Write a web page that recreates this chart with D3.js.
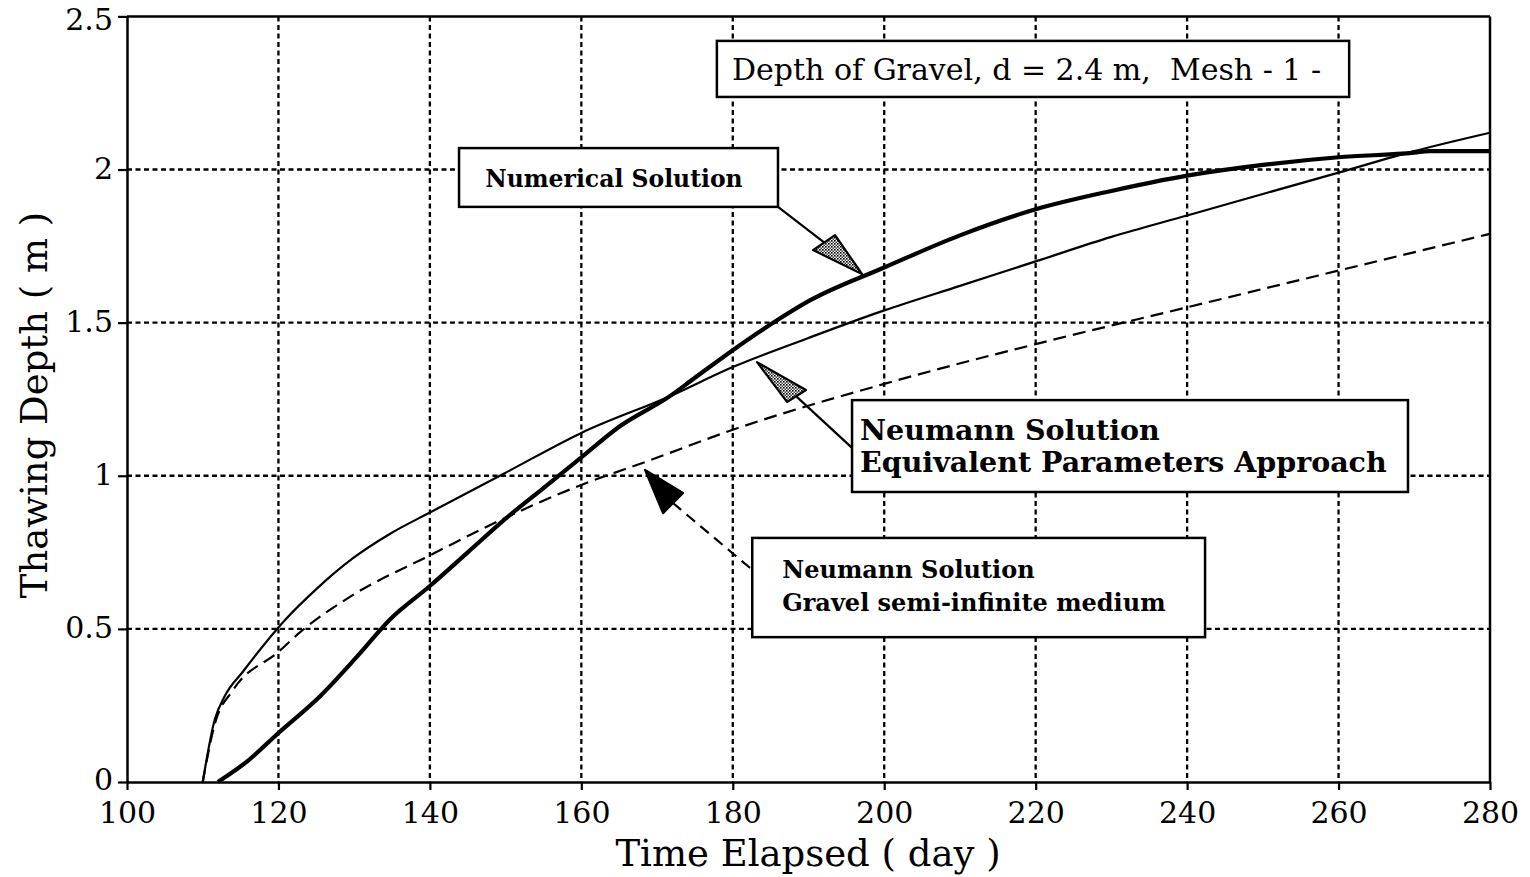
<!DOCTYPE html>
<html><head><meta charset="utf-8">
<script src="https://cdn.jsdelivr.net/npm/d3@7"></script>
<style>
html,body{margin:0;padding:0;background:#fff;}
svg{display:block;}
</style></head>
<body>
<svg id="chart" width="1530" height="877"></svg>
<script>
// ---- data ----
const xTicks = [100,120,140,160,180,200,220,240,260,280];
const yTicks = [0,0.5,1,1.5,2,2.5];
const yTickLabels = ["0","0.5","1","1.5","2","2.5"];

const numericalDays   = [112,116,120,125.5,130.4,134.7,140,145,150,155,160,165,171.7,175,180,186,190,200,210,220,230,240,250,260,270,272,280];
const numericalDepth  = [0,0.07,0.16,0.28,0.41,0.53,0.64,0.75,0.86,0.96,1.06,1.16,1.26,1.32,1.41,1.51,1.57,1.68,1.785,1.87,1.93,1.98,2.015,2.04,2.055,2.06,2.06];

const equivDays  = [110,111.6,112.9,115.3,120.9,125,129.8,134.7,140,150,160,171.7,180,190,200,210,220,230,240,250,260,270,280];
const equivDepth = [0,0.205,0.28,0.36,0.53,0.63,0.73,0.81,0.88,1.01,1.14,1.26,1.355,1.45,1.54,1.62,1.70,1.78,1.85,1.92,1.99,2.06,2.12];

const gravelDays  = [110,111.6,114,120,122.9,129.8,140,149.3,160,169,180,200,220,240,255,260,280];
const gravelDepth = [0,0.19,0.30,0.425,0.49,0.61,0.74,0.855,0.97,1.05,1.15,1.30,1.43,1.55,1.64,1.67,1.79];

const xTitle = "Time Elapsed ( day )";
const yTitle = "Thawing Depth ( m )";

// ---- layout ----
const svg = d3.select("#chart");
const L = 127, R = 1490, T = 16.4, B = 782;
const x = d3.scaleLinear().domain([100,280]).range([L,R]);
const y = d3.scaleLinear().domain([0,2.5]).range([B,T]);
const serif = "'DejaVu Serif', 'Liberation Serif', serif";

// pattern for stippled arrowheads
const defs = svg.append("defs");
const pat = defs.append("pattern").attr("id","stip").attr("width",3).attr("height",3).attr("patternUnits","userSpaceOnUse");
pat.append("rect").attr("width",3).attr("height",3).attr("fill","#fff");
pat.append("rect").attr("width",1.6).attr("height",1.6).attr("fill","#000");
pat.append("rect").attr("x",1.5).attr("y",1.5).attr("width",1.5).attr("height",1.5).attr("fill","#444");

// grid
const grid = svg.append("g");
grid.selectAll("line.vx").data(xTicks.slice(1,-1)).join("line")
  .attr("x1",d=>x(d)).attr("x2",d=>x(d)).attr("y1",T).attr("y2",B)
  .attr("stroke","#000").attr("stroke-width",2.3).attr("stroke-dasharray","5,3.5");
grid.selectAll("line.hy").data(yTicks.slice(1,-1)).join("line")
  .attr("y1",d=>y(d)).attr("y2",d=>y(d)).attr("x1",L).attr("x2",R)
  .attr("stroke","#000").attr("stroke-width",2.3).attr("stroke-dasharray","5,3.5");

// axes
const xAxis = svg.append("g").attr("transform",`translate(0,${B})`)
  .call(d3.axisBottom(x).tickValues(xTicks).tickSize(8).tickSizeOuter(0).tickPadding(10));
const yAxis = svg.append("g").attr("transform",`translate(${L},0)`)
  .call(d3.axisLeft(y).tickValues(yTicks).tickFormat((d,i)=>yTickLabels[i]).tickSize(9).tickSizeOuter(0).tickPadding(5));
[xAxis,yAxis].forEach(g=>{
  g.select(".domain").attr("stroke","#000").attr("stroke-width",2.5);
  g.selectAll(".tick line").attr("stroke","#000").attr("stroke-width",2.2);
  g.selectAll(".tick text").attr("fill","#000").style("font-family",serif).style("font-size","30px");
});
yAxis.selectAll(".tick text").attr("dy",d=>d===2.5?"0.42em":(d===0?"0.26em":"0.3em"));
xAxis.selectAll(".tick text").attr("dy","0.76em");
// frame top & right
svg.append("line").attr("x1",L).attr("x2",R).attr("y1",T).attr("y2",T).attr("stroke","#000").attr("stroke-width",2.5);
svg.append("line").attr("x1",R).attr("x2",R).attr("y1",T).attr("y2",B).attr("stroke","#000").attr("stroke-width",2.5);

// titles
svg.append("text").attr("x",808).attr("y",866).attr("text-anchor","middle")
  .style("font-family",serif).style("font-size","37px").text(xTitle);
svg.append("text").attr("transform","translate(47,405) rotate(-90)").attr("text-anchor","middle")
  .style("font-family",serif).style("font-size","37px").text(yTitle);

// series
const line = d3.line().x(d=>x(d[0])).y(d=>y(d[1])).curve(d3.curveMonotoneX);
const zip = (a,b)=>a.map((v,i)=>[v,b[i]]);
svg.append("path").datum(zip(gravelDays,gravelDepth)).attr("d",line)
  .attr("fill","none").attr("stroke","#000").attr("stroke-width",2.2).attr("stroke-dasharray","13,7");
svg.append("path").datum(zip(equivDays,equivDepth)).attr("d",line)
  .attr("fill","none").attr("stroke","#000").attr("stroke-width",2.2);
svg.append("path").datum(zip(numericalDays,numericalDepth)).attr("d",line)
  .attr("fill","none").attr("stroke","#000").attr("stroke-width",4.2).attr("stroke-linejoin","round");

// ---- annotations (in data units) ----
function box(x0,x1,y0,y1){
  svg.append("rect").attr("x",x(x0)).attr("y",y(y0)).attr("width",x(x1)-x(x0)).attr("height",y(y1)-y(y0))
    .attr("fill","#fff").attr("stroke","#000").attr("stroke-width",2.5);
}
function txt(tx,ty,s,size,bold){
  svg.append("text").attr("x",x(tx)).attr("y",y(ty)).style("font-family",serif)
    .style("white-space","pre")
    .style("font-size",size+"px").style("font-weight",bold?"bold":"normal").text(s);
}
function arrow(from,mid,tip,b1,b2,fill,dashed){
  svg.append("line").attr("x1",x(from[0])).attr("y1",y(from[1])).attr("x2",x(mid[0])).attr("y2",y(mid[1]))
    .attr("stroke","#000").attr("stroke-width",2.2).attr("stroke-dasharray",dashed?"11,7":null);
  svg.append("path").attr("d",`M${x(tip[0])},${y(tip[1])}L${x(b1[0])},${y(b1[1])}L${x(b2[0])},${y(b2[1])}Z`)
    .attr("fill",fill).attr("stroke","#000").attr("stroke-width",2.2).attr("stroke-linejoin","round");
}

box(177.9,261.4,2.42,2.237);
txt(179.9,2.292,"Depth of Gravel, d = 2.4 m,  Mesh - 1 -",30,false);

box(143.85,185.97,2.070,1.878);
txt(147.3,1.942,"Numerical Solution",23.5,true);
arrow([185.97,1.878],[192.05,1.762],[197.06,1.659],[190.6,1.737],[193.5,1.786],"url(#stip)",false);

box(195.75,269.17,1.247,0.947);
txt(196.8,1.117,"Neumann Solution",28.5,true);
txt(196.8,1.012,"Equivalent Parameters Approach",28.5,true);
arrow([195.75,1.091],[188.35,1.260],[183.2,1.371],[187.16,1.241],[189.67,1.280],"url(#stip)",false);

box(182.57,242.37,0.797,0.473);
txt(186.53,0.666,"Neumann Solution",24,true);
txt(186.53,0.558,"Gravel semi-infinite medium",24,true);
arrow([182.28,0.699],[172.1,0.911],[168.41,1.019],[170.79,0.878],[173.43,0.944],"#000",true);
</script>
</body></html>
